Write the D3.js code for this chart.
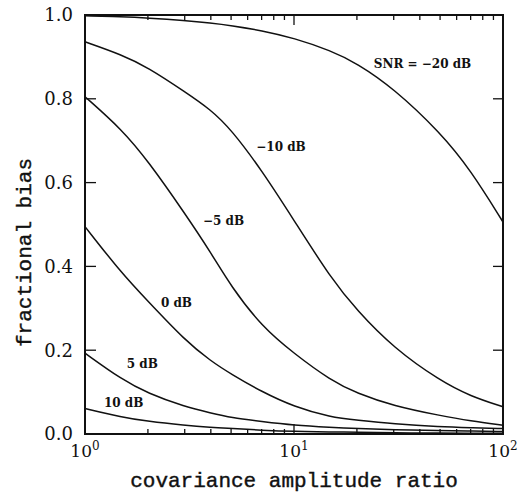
<!DOCTYPE html>
<html>
<head>
<meta charset="utf-8">
<script src="https://cdn.jsdelivr.net/npm/d3@7"></script>
<style>
  body { margin: 0; background: #fff; }
  svg { display: block; }
  .ticklab { font-family: "DejaVu Serif", serif; fill: #111; }
  .axtitle { font-family: "Liberation Mono", "Courier New", monospace; font-size: 21px; fill: #111; stroke: #111; stroke-width: 0.4px; }
  .curvelab { font-family: "DejaVu Serif", serif; font-weight: bold; font-size: 12px; fill: #111; }
</style>
</head>
<body>
<svg id="chart" width="528" height="495"></svg>
<script>
// covariance amplitude ratio (x) where values were read
const ratios = [1, 1.5, 2, 3, 4, 5, 7, 10, 15, 20, 30, 50, 70, 100];

// fractional bias for each SNR
const snrM20 = [0.998, 0.996, 0.993, 0.987, 0.981, 0.975, 0.963, 0.945, 0.915, 0.885, 0.825, 0.720, 0.630, 0.506];
const snrM10 = [0.936, 0.905, 0.875, 0.817, 0.774, 0.727, 0.630, 0.510, 0.372, 0.295, 0.205, 0.127, 0.090, 0.065];
const snrM5  = [0.805, 0.727, 0.652, 0.527, 0.433, 0.352, 0.257, 0.192, 0.128, 0.097, 0.067, 0.044, 0.031, 0.021];
const snr0   = [0.495, 0.383, 0.317, 0.224, 0.174, 0.143, 0.101, 0.065, 0.040, 0.033, 0.024, 0.017, 0.015, 0.013];
const snr5   = [0.193, 0.130, 0.097, 0.065, 0.050, 0.039, 0.030, 0.021, 0.016, 0.013, 0.010, 0.008, 0.007, 0.006];
const snr10  = [0.061, 0.040, 0.030, 0.021, 0.016, 0.013, 0.009, 0.006, 0.005, 0.004, 0.003, 0.002, 0.002, 0.002];

const seriesList = [snrM20, snrM10, snrM5, snr0, snr5, snr10];

// curve labels: text and the (ratio, bias) where they sit
const labelText = ["SNR = \u221220 dB", "\u221210 dB", "\u22125 dB", "0 dB", "5 dB", "10 dB"];
const labelAt = [[41.2, 0.883], [8.67, 0.685], [4.6, 0.508], [2.74, 0.313], [1.88, 0.167], [1.53, 0.074]];

const yTicks = [0, 0.2, 0.4, 0.6, 0.8, 1.0];
const xDecades = [1, 10, 100];

const margin = {top: 15, right: 25, bottom: 61, left: 85};
const W = 528, H = 495;
const width = W - margin.left - margin.right,
  height = H - margin.top - margin.bottom;

const svg = d3.select("#chart");
const g = svg.append("g").attr("transform", `translate(${margin.left},${margin.top})`);

const xScale = d3.scaleLog().domain([1, 100]).range([0, width]);
const yScale = d3.scaleLinear().domain([0, 1]).range([height, 0]);

// minor ticks on log axis
let minor = [];
for (let d = 1; d < 100; d *= 10) {
  for (let k = 2; k <= 9; k++) minor.push(d * k);
}

// top and bottom ticks (inside)
function xTicks(y0, dir) {
  g.selectAll(null).data(minor).enter().append("line")
    .attr("x1", d => xScale(d)).attr("x2", d => xScale(d))
    .attr("y1", y0).attr("y2", y0 + dir * 5)
    .attr("stroke", "#111").attr("stroke-width", 1.3);
  g.selectAll(null).data(xDecades).enter().append("line")
    .attr("x1", d => xScale(d)).attr("x2", d => xScale(d))
    .attr("y1", y0).attr("y2", y0 + dir * 10)
    .attr("stroke", "#111").attr("stroke-width", 1.3);
}
xTicks(0, 1);
xTicks(height, -1);

// left and right ticks (inside)
g.selectAll(null).data(yTicks).enter().append("line")
  .attr("x1", 0).attr("x2", 11)
  .attr("y1", d => yScale(d)).attr("y2", d => yScale(d))
  .attr("stroke", "#111").attr("stroke-width", 1.3);
g.selectAll(null).data(yTicks).enter().append("line")
  .attr("x1", width).attr("x2", width - 10)
  .attr("y1", d => yScale(d)).attr("y2", d => yScale(d))
  .attr("stroke", "#111").attr("stroke-width", 1.3);

// frame
g.append("rect")
  .attr("x", 0).attr("y", 0).attr("width", width).attr("height", height)
  .attr("fill", "none").attr("stroke", "#111").attr("stroke-width", 2);

// y tick labels
g.selectAll(null).data(yTicks).enter().append("text")
  .attr("class", "ticklab")
  .attr("x", -12).attr("y", d => yScale(d))
  .attr("dy", "0.36em")
  .attr("text-anchor", "end")
  .style("font-size", "18px")
  .text(d => d.toFixed(1));

// x tick labels as 10^n
xDecades.forEach(d => {
  const t = g.append("text").attr("class", "ticklab")
    .attr("x", xScale(d)).attr("y", height + 23)
    .attr("text-anchor", "middle")
    .style("font-size", "17px");
  t.append("tspan").text("10");
  t.append("tspan").attr("dy", "-0.55em").style("font-size", "12px").text(Math.round(Math.log10(d)));
});

// curves
const line = d3.line()
  .x((d, i) => xScale(ratios[i]))
  .y(d => yScale(d))
  .curve(d3.curveBasis);

g.selectAll(".curve").data(seriesList).enter().append("path")
  .attr("class", "curve")
  .attr("d", line)
  .attr("fill", "none")
  .attr("stroke", "#111")
  .attr("stroke-width", 1.5);

// curve labels
g.selectAll(".curvelab").data(labelText).enter().append("text")
  .attr("class", "curvelab")
  .attr("x", (d, i) => xScale(labelAt[i][0]))
  .attr("y", (d, i) => yScale(labelAt[i][1]))
  .attr("dy", "0.35em")
  .attr("text-anchor", "middle")
  .text(d => d);

// axis titles
svg.append("text").attr("class", "axtitle")
  .attr("x", margin.left + width / 2).attr("y", 487)
  .attr("text-anchor", "middle")
  .text("covariance amplitude ratio");

svg.append("text").attr("class", "axtitle")
  .attr("transform", `translate(31,${margin.top + height / 2 + 28}) rotate(-90)`)
  .attr("text-anchor", "middle")
  .text("fractional bias");
</script>
</body>
</html>
